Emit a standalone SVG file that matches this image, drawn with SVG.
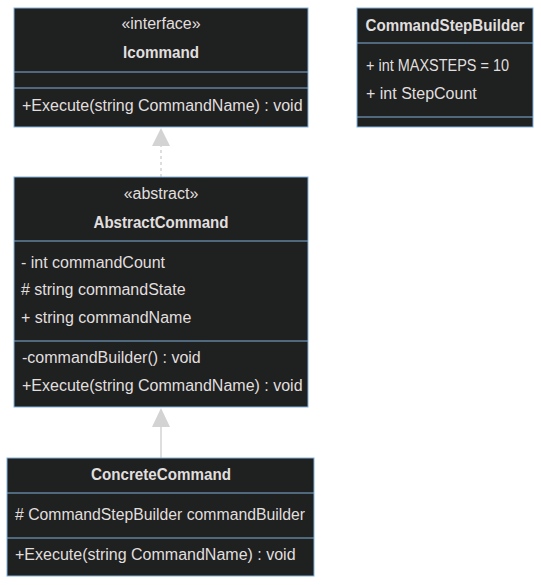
<svg xmlns="http://www.w3.org/2000/svg" width="541" height="585" viewBox="0 0 541 585">
<defs>
<style>
.box{fill:#1f2020;stroke:#81b1db;stroke-width:1}
.div{stroke:#81b1db;stroke-width:1}
text{font-family:"Liberation Sans","DejaVu Sans",sans-serif;font-size:16px;fill:#e0dfdf}
.c{text-anchor:middle}
.b{font-weight:bold}
.edge{stroke:#d3d3d3;stroke-width:1.5;fill:none}
.head{fill:#d3d3d3;stroke:none}
</style>
</defs>
<rect width="541" height="585" fill="#ffffff"/>
<g id="connectors">
<path class="edge" d="M161,177 L161,146" stroke-dasharray="3,3"/>
<path class="head" d="M161,128 L152,146 L170,146 Z"/>
<path class="edge" d="M161,458 L161,426"/>
<path class="head" d="M161,408 L152,427 L170,427 Z"/>
</g>
<g id="Icommand">
<rect class="box" x="14" y="8" width="294" height="119"/>
<line class="div" x1="14" y1="72" x2="308" y2="72"/>
<line class="div" x1="14" y1="88" x2="308" y2="88"/>
<text class="c" x="161" y="29">«interface»</text>
<text class="c b" x="161" y="58" textLength="76" lengthAdjust="spacingAndGlyphs">Icommand</text>
<text x="22" y="111">+Execute(string CommandName) : void</text>
</g>
<g id="CommandStepBuilder">
<rect class="box" x="357" y="8" width="176" height="119"/>
<line class="div" x1="357" y1="43" x2="533" y2="43"/>
<line class="div" x1="357" y1="117" x2="533" y2="117"/>
<text class="c b" x="445" y="31" textLength="159" lengthAdjust="spacingAndGlyphs">CommandStepBuilder</text>
<text x="366" y="71" textLength="143" lengthAdjust="spacingAndGlyphs">+ int MAXSTEPS = 10</text>
<text x="366" y="99">+ int StepCount</text>
</g>
<g id="AbstractCommand">
<rect class="box" x="14" y="177" width="294" height="230"/>
<line class="div" x1="14" y1="241" x2="308" y2="241"/>
<line class="div" x1="14" y1="341" x2="308" y2="341"/>
<text class="c" x="161" y="199">«abstract»</text>
<text class="c b" x="161" y="228" textLength="135" lengthAdjust="spacingAndGlyphs">AbstractCommand</text>
<text x="21" y="268">- int commandCount</text>
<text x="21" y="295"># string commandState</text>
<text x="21" y="323">+ string commandName</text>
<text x="22" y="363">-commandBuilder() : void</text>
<text x="22" y="391">+Execute(string CommandName) : void</text>
</g>
<g id="ConcreteCommand">
<rect class="box" x="7" y="458" width="307" height="118"/>
<line class="div" x1="7" y1="493" x2="314" y2="493"/>
<line class="div" x1="7" y1="538" x2="314" y2="538"/>
<text class="c b" x="161" y="480" textLength="140" lengthAdjust="spacingAndGlyphs">ConcreteCommand</text>
<text x="15" y="520" textLength="290" lengthAdjust="spacingAndGlyphs"># CommandStepBuilder commandBuilder</text>
<text x="15" y="560">+Execute(string CommandName) : void</text>
</g>
</svg>
